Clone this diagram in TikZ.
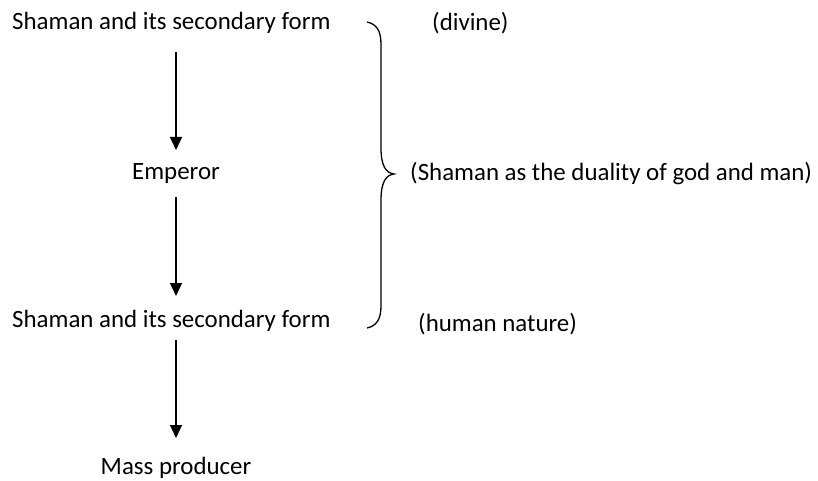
\documentclass[tikz,border=0pt]{standalone}
\usepackage{fontspec}
\setmainfont{Carlito}
\usetikzlibrary{arrows.meta}
\begin{document}
\begin{tikzpicture}[x=1pt,y=-1pt,
  lbl/.style={inner sep=0pt,font=\fontsize{24.9}{29}\selectfont},
  flow/.style={line width=1.4pt,-{Triangle[width=12pt,length=13pt]}},
  brace/.style={line width=1.3pt}]
\useasboundingbox (0,0) rectangle (818,481);
\node[lbl,anchor=west] (s1) at (12,23) {Shaman and its secondary form};
\node[lbl] (emp) at (176,174) {Emperor};
\node[lbl,anchor=west] (s2) at (12,321) {Shaman and its secondary form};
\node[lbl] (mass) at (176,468) {Mass producer};
\node[lbl,anchor=west] (div) at (432,23) {(divine)};
\node[lbl,anchor=west] (dual) at (410,174) {(Shaman as the duality of god and man)};
\node[lbl,anchor=west] (hum) at (418,324) {(human nature)};
\coordinate (a1s) at (176,52); \coordinate (a1e) at (176,150);
\coordinate (a2s) at (176,197); \coordinate (a2e) at (176,296);
\coordinate (a3s) at (176,340); \coordinate (a3e) at (176,438);
\draw[flow] (a1s) -- (a1e);
\draw[flow] (a2s) -- (a2e);
\draw[flow] (a3s) -- (a3e);
\coordinate (bt) at (367,22);
\coordinate (bm) at (394,174);
\coordinate (bb) at (367,328);
\draw[brace] (bt) .. controls (376,24) and (381,30) .. (381,44)
  -- (381,148) .. controls (381,166) and (386,173) .. (bm)
  .. controls (386,175) and (381,182) .. (381,200)
  -- (381,306) .. controls (381,320) and (376,326) .. (bb);
\end{tikzpicture}
\end{document}
